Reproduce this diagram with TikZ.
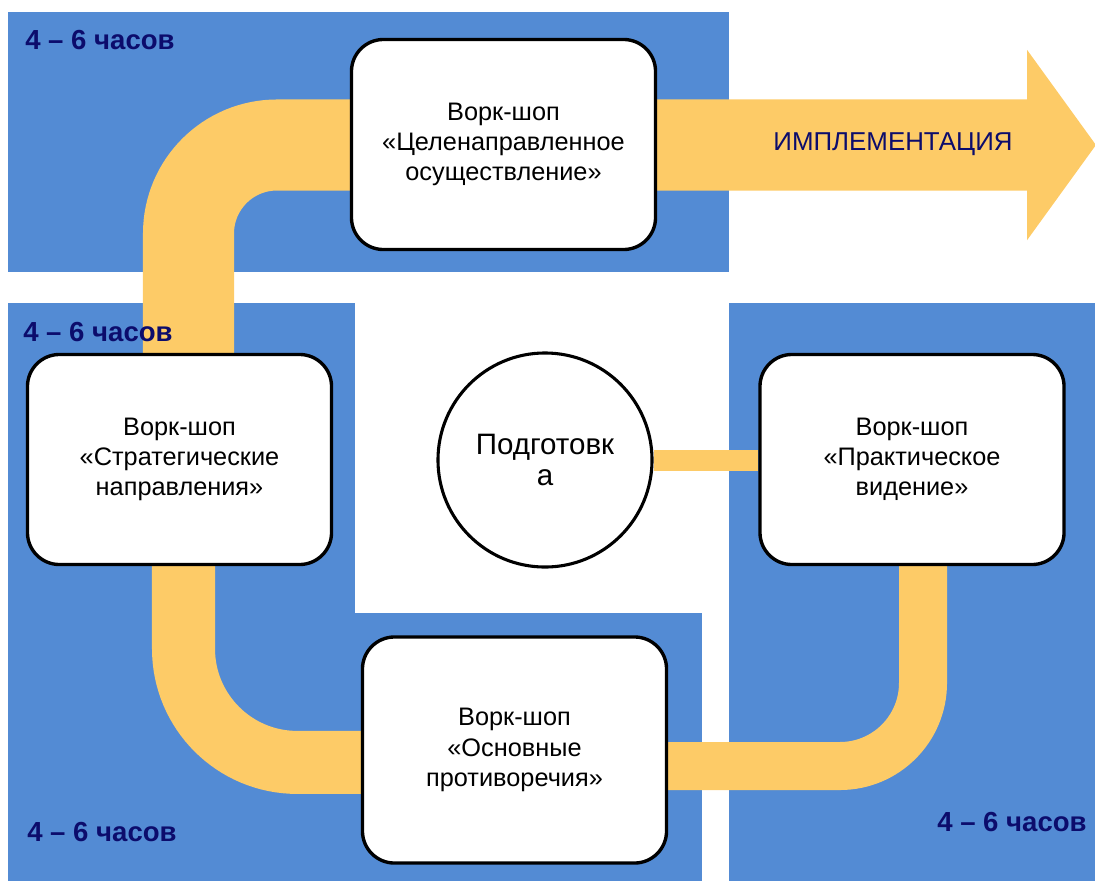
\documentclass[tikz,border=0pt]{standalone}
\usepackage{fontspec}
\setmainfont{Liberation Sans}
\usepackage{tikz}
\definecolor{PanelBlue} {RGB}{83, 139, 212}
\definecolor{BandYellow}{RGB}{253, 203, 103}
\definecolor{HoursNavy} {RGB}{12,  12, 108}
\usetikzlibrary{
  arrows.meta,
  positioning
}
\pgfdeclarelayer{panels}
\pgfdeclarelayer{bands}
\pgfsetlayers{panels,bands,main}

\begin{document}
\begin{tikzpicture}[
  x=0.025cm, y=-0.025cm,
  workshop/.style={
    draw=black, line width=2.4pt,
    fill=white,
    rounded corners=0.8cm,
    align=center, font=\fontsize{18}{21.5}\selectfont,
    minimum width=7.6cm,
    minimum height=5.25cm,
    inner sep=0pt},
  prepnode/.style={
    circle, draw=black, line width=2.2pt,
    fill=white,
    align=center, font=\fontsize{21}{22}\selectfont,
    minimum size=5.35cm,
    inner sep=0pt},
  hours/.style={
    anchor=west, inner sep=0pt,
    font=\fontsize{19.6}{22}\selectfont\bfseries, color=HoursNavy},
  band/.style={
    draw=BandYellow, line cap=butt}
]
\useasboundingbox (0,0) rectangle (1095,881);

% blue panels
\begin{pgfonlayer}{panels}
  \fill[PanelBlue] (8,12) rectangle (729,272);
  \fill[PanelBlue] (8,303) rectangle (355,881);
  \fill[PanelBlue] (355,613) rectangle (702,881);
  \fill[PanelBlue] (729,303) rectangle (1095,881);
\end{pgfonlayer}

\node[workshop] (ws-goal) at (503.5,144.5)
  {Ворк-шоп\\«Целенаправленное\\осуществление»};
\node[workshop] (ws-strat) at (179.5,459.5)
  {Ворк-шоп\\«Стратегические\\направления»};
\node[workshop, minimum height=5.65cm] (ws-contr) at (514.5,750)
  {Ворк-шоп\\«Основные\\противоречия»};
\node[workshop] (ws-vision) at (912,459.5)
  {Ворк-шоп\\«Практическое\\видение»};

\node[prepnode] (prep) at (545,460) {Подготовк\\а};

\coordinate (impl-tip) at (1096,145);
\node[font=\fontsize{18.4}{20}\selectfont, color=HoursNavy]
  (impl) at (893,144) {ИМПЛЕМЕНТАЦИЯ};

\foreach \n/\x/\y in
  {hrs-top/25/40,hrs-left/23/332,hrs-low/27/832,hrs-right/937/822}{
  \node[hours] (\n) at (\x,\y) {4 – 6 часов};
}

% yellow bands
\begin{pgfonlayer}{bands}
  \draw[band, line width=2.275cm, rounded corners=2.21cm,
    -{Triangle[length=1.725cm, width=4.675cm]}]
    ([xshift=0.225cm]ws-strat.north) |- (impl-tip);
  \draw[band, line width=1.575cm, rounded corners=2.84cm]
    ([xshift=0.1cm]ws-strat.south) |- ([yshift=-0.31cm]ws-contr.west);
  \draw[band, line width=1.2cm, rounded corners=2.075cm]
    ([yshift=-0.4cm]ws-contr.east) -| ([xshift=0.275cm]ws-vision.south);
  \draw[band, line width=0.525cm]
    (prep.east) -- (prep.east -| ws-vision.west);
\end{pgfonlayer}
\end{tikzpicture}
\end{document}
